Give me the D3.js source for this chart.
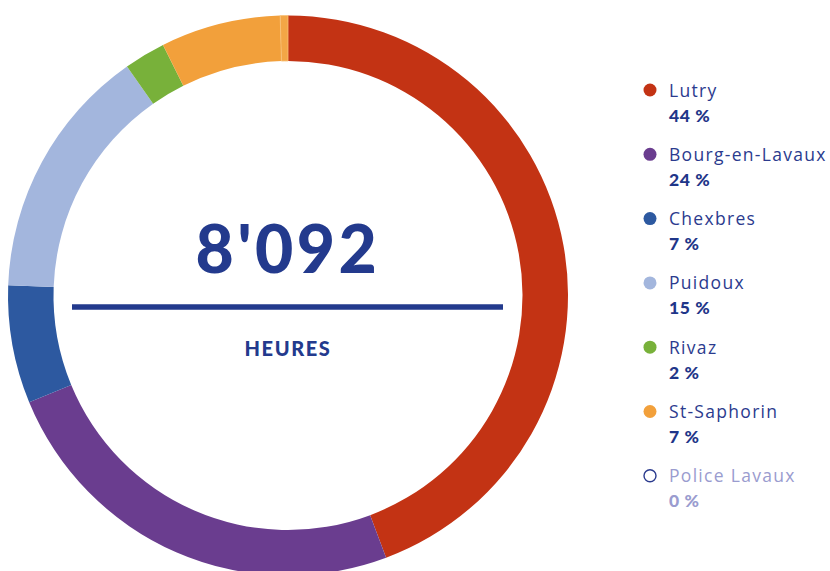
<!DOCTYPE html>
<html>
<head>
<meta charset="utf-8">
<script src="https://cdn.jsdelivr.net/npm/d3@7"></script>
<style>
  html, body { margin: 0; padding: 0; background: #fff; }
  svg { display: block; font-family: Lato, "Noto Sans", sans-serif; }
</style>
</head>
<body>
<svg id="chart" width="830" height="571"></svg>
<script>
// heures par commune (total 8'092)
const communes = ["Lutry", "Bourg-en-Lavaux", "Chexbres", "Puidoux", "Rivaz", "St-Saphorin", "Police Lavaux"];
const heures = [3585, 1980, 551, 1187, 193, 560, 36];
const couleurs = ["#c33314", "#6a3d8f", "#2d59a0", "#a3b6dd", "#78b13a", "#f2a03b", "#f3a646"];
const totalLabel = "8'092";
const uniteLabel = "HEURES";

let svg = d3.select("#chart");
let cx = 288, cy = 295.5, outerR = 280, innerR = 234.5;

let total = d3.sum(heures);
let data = communes.map(function(d, i) { return {name: d, value: heures[i], color: couleurs[i]} });

let pie = d3.pie().sort(null).value(function(d) { return d.value });
let arc = d3.arc().innerRadius(innerR).outerRadius(outerR);

let g = svg.append("g").attr("transform", "translate(" + cx + "," + cy + ")");

g.selectAll("path")
 .data(pie(data))
 .enter()
 .append("path")
 .attr("d", arc)
 .attr("fill", function(d) { return d.data.color })
 .attr("stroke", "#f7c27a")
 .attr("stroke-width", function(d) { return d.data.name == "Police Lavaux" ? 0.8 : 0 });

// centre
g.append("text")
 .attr("x", 0).attr("y", -22.5)
 .attr("text-anchor", "middle")
 .attr("font-size", 66)
 .attr("font-weight", 900)
 .attr("letter-spacing", 3.5)
 .attr("fill", "#233a8d")
 .text(totalLabel);

g.append("line")
 .attr("x1", -216).attr("x2", 215)
 .attr("y1", 11.5).attr("y2", 11.5)
 .attr("stroke", "#233a8d")
 .attr("stroke-width", 5.5);

g.append("text")
 .attr("x", 0).attr("y", 60.5)
 .attr("text-anchor", "middle")
 .attr("font-size", 20)
 .attr("font-weight", 900)
 .attr("letter-spacing", 1.6)
 .attr("fill", "#233a8d")
 .text(uniteLabel);

// légende
let legend = svg.append("g").attr("transform", "translate(650,90)");
let step = 64.3;

let item = legend.selectAll("g")
 .data(data)
 .enter()
 .append("g")
 .attr("transform", function(d, i) { return "translate(0," + (i * step) + ")" });

item.append("circle")
 .attr("r", function(d) { return d.name == "Police Lavaux" ? 6 : 6.5 })
 .attr("fill", function(d) { return d.name == "Police Lavaux" ? "#fff" : d.color })
 .attr("stroke", function(d) { return d.name == "Police Lavaux" ? "#2b3b8e" : "none" })
 .attr("stroke-width", 1.4);

item.append("text")
 .attr("x", 19).attr("y", 6.5)
 .attr("font-family", "'Open Sans', sans-serif")
 .attr("font-size", 17.5)
 .attr("letter-spacing", 1.3)
 .attr("fill", function(d) { return d.name == "Police Lavaux" ? "#9a9ccf" : "#2b3b8e" })
 .text(function(d) { return d.name });

item.append("text")
 .attr("x", 19).attr("y", 31.5)
 .attr("font-size", 17.5)
 .attr("font-weight", 900)
 .attr("letter-spacing", 0.6)
 .attr("fill", function(d) { return d.name == "Police Lavaux" ? "#9a9ccf" : "#1f3689" })
 .text(function(d) { return Math.round(d.value / total * 100) + " %" });
</script>
</body>
</html>
